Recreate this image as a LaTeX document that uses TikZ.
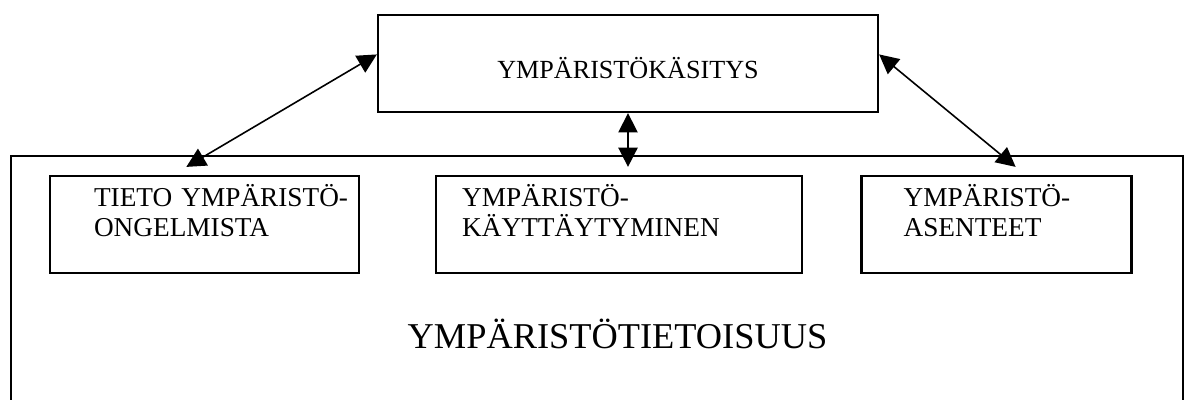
\documentclass[tikz,border=0pt]{standalone}
\usepackage{fontspec}
\setmainfont{Liberation Serif}
\usetikzlibrary{positioning, arrows.meta}

\begin{document}
\begin{tikzpicture}[x = 0.44pt, y = -0.44pt, node distance = 33pt,
  box/.style = {rectangle, draw, line width = 1pt, minimum height = 42.7pt, inner sep = 0pt},
  part/.style = {box, text width = #1, align = left, font = \fontsize{12}{13.2}\selectfont},
  link/.style = {{Triangle[length = 8.5pt, width = 8.5pt]}-{Triangle[length = 8.5pt, width = 8.5pt]}, line width = 0.7pt}]
  \useasboundingbox (0,0) rectangle (1185,399);
  \clip (0,0) rectangle (1185,399);
  % nodes
  \node [box, minimum width = 220pt, font = \fontsize{11.5}{13}\selectfont, text height = 12.8pt, text depth = 0pt] (kasitys) at (628,63.5) {YMPÄRISTÖKÄSITYS};
  \node [box, minimum width = 515.7pt, minimum height = 176pt] (tietoisuus) at (597,356) {};
  \node [anchor = base, font = \fontsize{16}{19}\selectfont] (otsikko) at (617.5,348) {YMPÄRISTÖTIETOISUUS};

  \node [part = 136pt] (tieto) at (204.5,224.5) {\leftskip=19.4pt TIETO YMPÄRISTÖ-\\ONGELMISTA\\[-1.2pt]\mbox{}};
  \node [part = 161pt][right = 33pt of tieto] (kaytto) {\leftskip=11.4pt YMPÄRISTÖ-\\KÄYTTÄYTYMINEN\\[-1.2pt]\mbox{}};
  \node [part = 118.8pt][right = 25.1pt of kaytto] (asenteet) {\leftskip=18.5pt YMPÄRISTÖ-\\ASENTEET\\[-1.2pt]\mbox{}};
  \coordinate (keski) at (kasitys.south |- kaytto.north);

  % edges
  \draw [link] ([yshift = 4pt]kasitys.west) -- ([xshift = -8pt, yshift = 3.5pt]tieto.north);
  \draw [link] (kasitys.south) -- ([yshift = 3.5pt]keski);
  \draw [link] ([yshift = 4pt]kasitys.east) -- ([xshift = 8.4pt, yshift = 3.5pt]asenteet.north);
\end{tikzpicture}
\end{document}
